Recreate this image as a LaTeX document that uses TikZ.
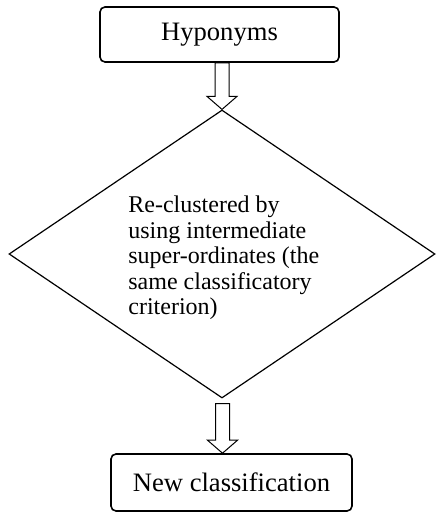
\documentclass[tikz,border=0pt]{standalone}
\usepackage{fontspec}
\setmainfont{Liberation Serif}
\usetikzlibrary{shapes.geometric,calc}

\begin{document}
\begin{tikzpicture}[x=0.5pt,y=-0.5pt,font=\fontsize{12}{12.75}\selectfont,line join=miter,
  stepbox/.style={draw,line width=0.8pt,rounded corners=2.5pt,inner sep=0pt,font=\fontsize{13.3}{16}\selectfont},
  hollowarrow/.style={draw,line width=0.5pt,to path={let \p1=(\tikztostart),\p2=(\tikztotarget) in
    (\x2-3.5pt,\y1) -- (\x2-3.5pt,\y2+6.5pt) -- (\x2-7.5pt,\y2+6.5pt) -- (\x2,\y2)
    -- (\x2+7.5pt,\y2+6.5pt) -- (\x2+3.5pt,\y2+6.5pt) -- (\x2+3.5pt,\y1) -- cycle}}]
\useasboundingbox (0,0) rectangle (437,512);
\node[stepbox,minimum width=119.5pt,minimum height=27.5pt] (hyp) at (219.5,34.5) {Hyponyms};
\node[diamond,draw,line width=0.6pt,inner sep=0pt,minimum width=213pt,minimum height=144pt] (dia) at (222,254) {};
\node[align=left,anchor=west,inner sep=0pt] (crit) at (128,258) {Re-clustered by\\using intermediate\\super-ordinates (the\\same classificatory\\criterion)};
\node[stepbox,minimum width=120.5pt,minimum height=28.5pt] (newcls) at (231.5,482.5) {New classification};
\draw[hollowarrow] (hyp.south) to (dia.north);
\draw[hollowarrow] ([yshift=-2.5pt]dia.south) to ([xshift=-4.5pt]newcls.north);
\end{tikzpicture}
\end{document}
